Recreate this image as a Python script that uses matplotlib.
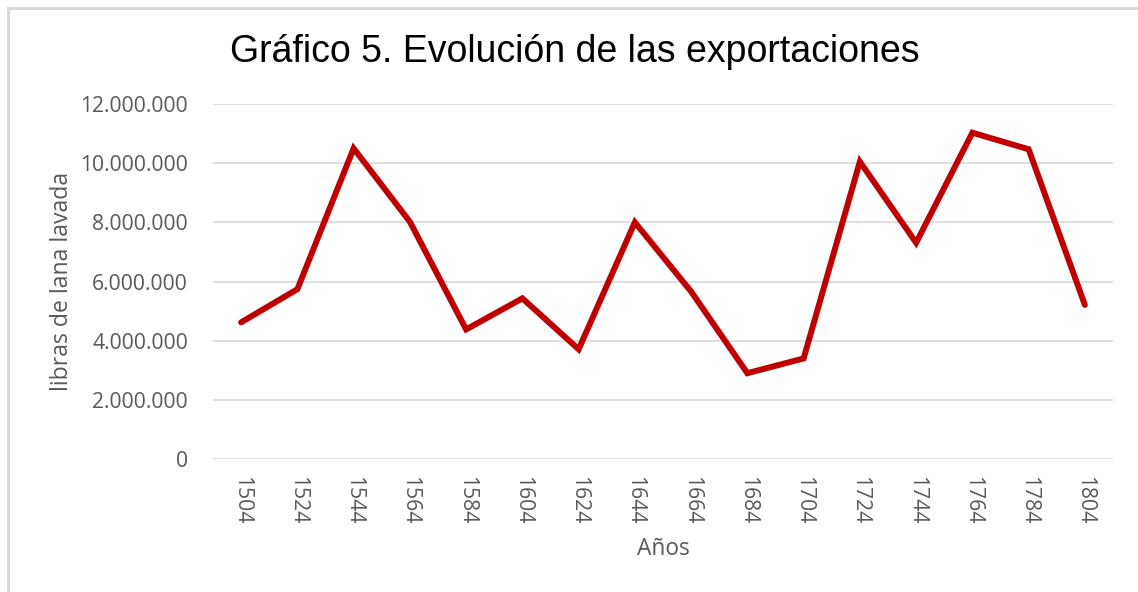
import matplotlib.pyplot as plt
from matplotlib.patches import Rectangle
from matplotlib.ticker import FuncFormatter

years = ['1504', '1524', '1544', '1564', '1584', '1604', '1624', '1644',
         '1664', '1684', '1704', '1724', '1744', '1764', '1784', '1804']
libras = [4620000, 5740000, 10500000, 8020000, 4380000, 5430000, 3710000, 8000000,
          5660000, 2900000, 3400000, 10050000, 7310000, 11030000, 10470000, 5210000]
yticks = [0, 2000000, 4000000, 6000000, 8000000, 10000000, 12000000]

gray = '#595959'
fnt = ['Open Sans', 'DejaVu Sans']

fig = plt.figure(figsize=(11.38, 5.92), dpi=100)
# chart border (light gray)
fig.patches.append(Rectangle((7.5 / 1138, -0.05), 1.2, 1 - 7.5 / 592 + 0.05,
                             transform=fig.transFigure, fill=False,
                             edgecolor='#d9d9d9', linewidth=2.2))

ax = fig.add_axes([213 / 1138, 1 - 459 / 592, 900 / 1138, 355 / 592])
x = range(len(years))
ax.plot(x, libras, color='#c00000', linewidth=4.3, solid_joinstyle='miter', solid_capstyle='round')

ax.set_xlim(-0.5, len(years) - 0.5)
ax.set_ylim(0, 12000000)
ax.set_yticks(yticks)
ax.yaxis.set_major_formatter(FuncFormatter(lambda v, p: '0' if v == 0 else f'{int(v):,}'.replace(',', '.')))
ax.set_xticks(list(x))
ax.set_xticklabels(years, rotation=-90)

ax.grid(axis='y', color='#d9d9d9', linewidth=1.2)
ax.set_axisbelow(True)
for s in ax.spines.values():
    s.set_visible(False)
ax.tick_params(axis='y', length=0, pad=18, labelcolor=gray, labelsize=15.2)
ax.tick_params(axis='x', length=0, pad=12, labelcolor=gray, labelsize=15.2)
for lab in ax.get_xticklabels() + ax.get_yticklabels():
    lab.set_family(fnt)

ax.set_xlabel('Años', color=gray, fontsize=16.4, family=fnt, va='center')
ax.set_ylabel('libras de lana lavada', color=gray, fontsize=16.6, family=fnt, va='center')
ax.xaxis.set_label_coords(0.5 + (663 - 663) / 900, (459 - 549) / 355)
ax.yaxis.set_label_coords((62 - 213) / 900, 0.5 + (459 - 281 - 177.5) / 355)

fig.text(0.505, 0.913, 'Gráfico 5. Evolución de las exportaciones', ha='center', va='center',
         fontsize=27, family=['Liberation Sans', 'DejaVu Sans'], color='black')

fig.savefig('out.png', dpi=100, facecolor='white')
